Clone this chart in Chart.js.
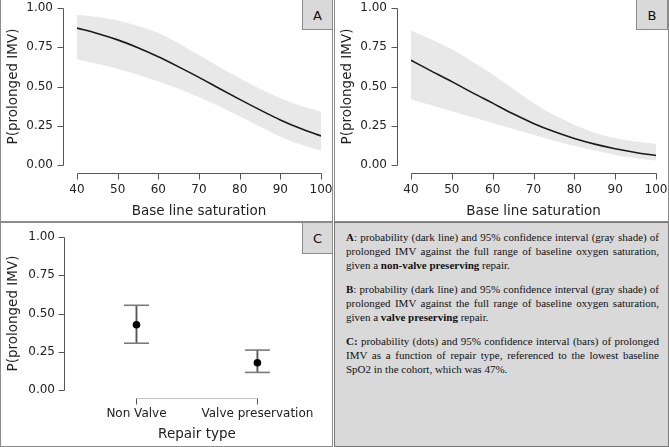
<!DOCTYPE html>
<html>
<head>
<meta charset="utf-8">
<script src="https://cdn.jsdelivr.net/npm/chart.js@4/dist/chart.umd.min.js"></script>
<style>
  html, body { margin:0; padding:0; background:#fff; }
  body { width:669px; height:447px; position:relative; overflow:hidden; font-family:"DejaVu Sans", sans-serif; }
  canvas { position:absolute; }
  .frame { position:absolute; box-sizing:border-box; border:1px solid #8c8c8c; background:transparent; }
  .tag { position:absolute; box-sizing:border-box; border:1px solid #8c8c8c; background:#d9d9d9;
         font:13px "DejaVu Sans", sans-serif; color:#111; text-align:center; }
  #txt { position:absolute; left:334px; top:222px; width:335px; height:225px; box-sizing:border-box;
         border:1px solid #777; background:#d9d9d9; }
  #txt .body { position:absolute; left:11px; top:7px; width:313px;
         font:11px/14px "Liberation Serif", "Times New Roman", serif; text-align:justify; color:#111; }
  #txt p { margin:0 0 10px 0; }
</style>
</head>
<body>
<canvas id="cA" width="332" height="221" style="left:0;top:0"></canvas>
<canvas id="cB" width="334" height="221" style="left:334px;top:0"></canvas>
<canvas id="cC" width="332" height="222" style="left:0;top:223px"></canvas>

<div class="frame" style="left:0;top:-1px;width:333px;height:223px"></div>
<div class="frame" style="left:334px;top:-1px;width:335px;height:223px"></div>
<div class="frame" style="left:0;top:222px;width:333px;height:225px"></div>

<div class="tag" style="left:302px;top:-1px;width:31px;height:31px;line-height:31px">A</div>
<div class="tag" style="left:636px;top:-1px;width:32px;height:31px;line-height:31px">B</div>
<div class="tag" style="left:302px;top:222px;width:31px;height:32px;line-height:32px">C</div>

<div id="txt"><div class="body">
<p><b>A</b>: probability (dark line) and 95% confidence interval (gray shade) of prolonged IMV against the full range of baseline oxygen saturation, given a <b>non-valve preserving</b> repair.</p>
<p><b>B</b>: probability (dark line) and 95% confidence interval (gray shade) of prolonged IMV against the full range of baseline oxygen saturation, given a <b>valve preserving</b> repair.</p>
<p><b>C:</b> probability (dots) and 95% confidence interval (bars) of prolonged IMV as a function of repair type, referenced to the lowest baseline SpO2 in the cohort, which was 47%.</p>
</div></div>

<script>
// ---------- data ----------
const saturation = [40, 45, 50, 55, 60, 65, 70, 75, 80, 85, 90, 95, 100];

const probA  = [0.872, 0.838, 0.797, 0.747, 0.689, 0.625, 0.558, 0.487, 0.418, 0.351, 0.287, 0.232, 0.185];
const upperA = [0.957, 0.942, 0.921, 0.885, 0.840, 0.774, 0.700, 0.625, 0.553, 0.485, 0.425, 0.378, 0.340];
const lowerA = [0.674, 0.645, 0.613, 0.575, 0.532, 0.485, 0.432, 0.372, 0.310, 0.243, 0.180, 0.130, 0.090];

const probB  = [0.667, 0.598, 0.531, 0.461, 0.394, 0.326, 0.265, 0.213, 0.169, 0.133, 0.104, 0.080, 0.060];
const upperB = [0.855, 0.800, 0.737, 0.660, 0.577, 0.485, 0.395, 0.318, 0.256, 0.205, 0.171, 0.150, 0.135];
const lowerB = [0.417, 0.380, 0.342, 0.305, 0.267, 0.230, 0.192, 0.155, 0.122, 0.092, 0.064, 0.043, 0.028];

const repairTypes = ["Non Valve", "Valve preservation"];
const probC  = [0.427, 0.178];
const upperC = [0.554, 0.261];
const lowerC = [0.306, 0.115];

const probTicks = [0, 0.25, 0.5, 0.75, 1];
const satTicks  = [40, 50, 60, 70, 80, 90, 100];

const yTitle = "P(prolonged IMV)";
const xTitleAB = "Base line saturation";
const xTitleC = "Repair type";

// ---------- styling helpers ----------
const tickFont = { family: "DejaVu Sans", size: 12 };
const titleFont = { family: "DejaVu Sans", size: 13.5 };
const textColor = "#222";

function noPad(s) { s.paddingLeft = 0; s.paddingRight = 0; s.paddingTop = 0; s.paddingBottom = 0; }

// plugin drawing detached (offset) axis lines and tick marks using the chart's scales
const offsetAxes = {
  id: "offsetAxes",
  afterDraw(chart, args, opts) {
    const ctx = chart.ctx, x = chart.scales.x, y = chart.scales.y, ca = chart.chartArea;
    const ax = ca.left - opts.yGap, ay = ca.bottom + opts.xGap, tl = 6;
    ctx.save();
    ctx.lineWidth = 1;
    ctx.strokeStyle = "#555";
    const y0 = Math.round(y.getPixelForValue(probTicks[0])) + 0.5;
    const y1 = Math.round(y.getPixelForValue(probTicks[probTicks.length - 1])) + 0.5;
    const axr = Math.round(ax) + 0.5;
    ctx.beginPath(); ctx.moveTo(axr, y0); ctx.lineTo(axr, y1); ctx.stroke();
    probTicks.forEach(v => {
      const p = Math.round(y.getPixelForValue(v)) + 0.5;
      ctx.beginPath(); ctx.moveTo(axr - tl, p); ctx.lineTo(axr, p); ctx.stroke();
    });
    const xs = opts.xValues.map(v => Math.round(x.getPixelForValue(v)) + 0.5);
    const ayr = Math.round(ay) + 0.5;
    ctx.strokeStyle = opts.xLineColor;
    ctx.beginPath(); ctx.moveTo(xs[0], ayr); ctx.lineTo(xs[xs.length - 1], ayr); ctx.stroke();
    ctx.strokeStyle = "#555";
    const tickXs = (opts.xTickValues || opts.xValues).map(v => Math.round(x.getPixelForValue(v)) + 0.5);
    tickXs.forEach(p => { ctx.beginPath(); ctx.moveTo(p, ayr); ctx.lineTo(p, ayr + tl); ctx.stroke(); });
    ctx.restore();
  }
};

function yScale(width, pad) {
  return {
    type: "linear", min: 0, max: 1,
    afterFit(s) { s.width = width; noPad(s); },
    afterBuildTicks(s) { s.ticks = probTicks.map(v => ({ value: v })); },
    grid: { display: false, drawTicks: false },
    border: { display: false },
    ticks: { font: tickFont, color: textColor, padding: pad, callback: v => Number(v).toFixed(2) },
    title: { display: true, text: yTitle, font: titleFont, color: textColor, padding: { top: 5, bottom: 0 } }
  };
}

function curveChart(id, prob, upper, lower, padRight) {
  const pts = arr => saturation.map((s, i) => ({ x: s, y: arr[i] }));
  return new Chart(document.getElementById(id), {
    type: "line",
    data: {
      datasets: [
        { data: pts(prob), borderColor: "#1a1a1a", borderWidth: 1.6, pointRadius: 0, fill: false, cubicInterpolationMode: "monotone" },
        { data: pts(upper), borderWidth: 0, borderColor: "rgba(0,0,0,0)", pointRadius: 0, fill: "+1", backgroundColor: "#e8e8e8", cubicInterpolationMode: "monotone" },
        { data: pts(lower), borderWidth: 0, borderColor: "rgba(0,0,0,0)", pointRadius: 0, fill: false, cubicInterpolationMode: "monotone" }
      ]
    },
    options: {
      responsive: false, animation: false,
      layout: { padding: { top: 8, right: padRight, bottom: 0, left: 0 } },
      plugins: {
        legend: { display: false }, tooltip: { enabled: false },
        offsetAxes: { yGap: 14, xGap: 8, xValues: [40, 100], xTickValues: satTicks, xLineColor: "#555" }
      },
      scales: {
        x: {
          type: "linear", min: 40, max: 100,
          afterFit(s) { s.height = 56; noPad(s); },
          afterBuildTicks(s) { s.ticks = satTicks.map(v => ({ value: v })); },
          grid: { display: false, drawTicks: false },
          border: { display: false },
          ticks: { font: tickFont, color: textColor, padding: 18, maxRotation: 0 },
          title: { display: true, text: xTitleAB, font: titleFont, color: textColor, padding: { top: 0, bottom: 1 } }
        },
        y: yScale(77, 24)
      }
    },
    plugins: [offsetAxes]
  });
}

curveChart("cA", probA, upperA, lowerA, 11);
curveChart("cB", probB, upperB, lowerB, 12);

new Chart(document.getElementById("cC"), {
  type: "bar",
  data: {
    labels: repairTypes,
    datasets: [
      { type: "line", data: probC, showLine: false, pointRadius: 3.8, pointBackgroundColor: "#000", pointBorderColor: "#000", pointBorderWidth: 0 },
      { type: "line", data: upperC, showLine: false, pointStyle: "line", pointRadius: 12.5, pointBorderColor: "#7a7a7a", pointBorderWidth: 1.6 },
      { type: "line", data: lowerC, showLine: false, pointStyle: "line", pointRadius: 12.5, pointBorderColor: "#7a7a7a", pointBorderWidth: 1.6 },
      { type: "bar", data: repairTypes.map((_, i) => [lowerC[i], upperC[i]]), backgroundColor: "#555", borderWidth: 0, barThickness: 1.2 }
    ]
  },
  options: {
    responsive: false, animation: false,
    layout: { padding: { top: 10, right: 12, bottom: 0, left: 0 } },
    plugins: {
      legend: { display: false }, tooltip: { enabled: false },
      offsetAxes: { yGap: 12, xGap: 8, xValues: [0, 1], xLineColor: "#c4c4c4" }
    },
    scales: {
      x: {
        type: "category", offset: true,
        afterFit(s) { s.height = 55; noPad(s); },
        grid: { display: false, drawTicks: false },
        border: { display: false },
        ticks: { font: tickFont, color: textColor, padding: 17, maxRotation: 0 },
        title: { display: true, text: xTitleC, font: titleFont, color: textColor, padding: { top: 0, bottom: 2 } }
      },
      y: yScale(76, 21)
    }
  },
  plugins: [offsetAxes]
});
</script>
</body>
</html>
